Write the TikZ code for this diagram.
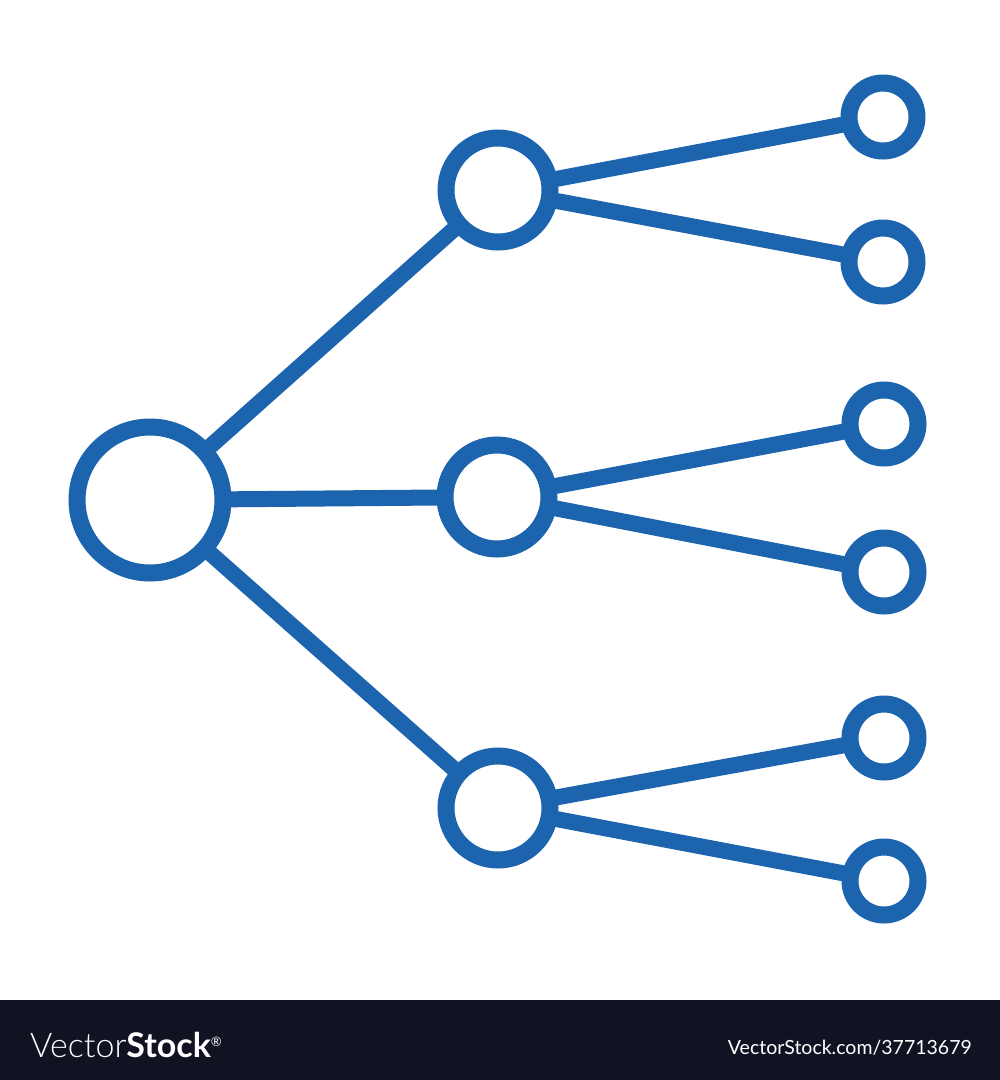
\documentclass[tikz,border=0pt]{standalone}
\usepackage{fontspec}
\newfontfamily\lato{Lato}
\newfontfamily\latolight{Lato Light}
\definecolor{iconblue}{HTML}{1C64AE}
\definecolor{barnavy}{HTML}{121322}
\begin{document}
\begin{tikzpicture}[x=1pt,y=-1pt,
  stroke/.style={draw=iconblue,line width=17pt},
  rootnode/.style={stroke,circle,minimum size=146pt,inner sep=0pt},
  midnode/.style={stroke,circle,minimum size=104pt,inner sep=0pt},
  leafnode/.style={stroke,circle,minimum size=68pt,inner sep=0pt},
  link/.style={draw=iconblue,line width=16pt,line cap=round}]
\useasboundingbox (0,0) rectangle (1000,1080);
\fill[white] (0,0) rectangle (1000,1000);
\fill[barnavy] (0,1000) rectangle (1000,1080);
% nodes
\node[rootnode] (r) at (150,500) {};
\node[midnode] (m1) at (498,190) {};
\node[midnode] (m2) at (497,497) {};
\node[midnode] (m3) at (498,808) {};
\node[leafnode] (l1) at (883,117) {};
\node[leafnode] (l2) at (883,262) {};
\node[leafnode] (l3) at (884,424) {};
\node[leafnode] (l4) at (884,572) {};
\node[leafnode] (l5) at (884,738) {};
\node[leafnode] (l6) at (884,881) {};
% connectors
\draw[link] (r) -- (m1);
\draw[link] (r) -- (m2);
\draw[link] (r) -- (m3);
\draw[link] (m1) -- (l1);
\draw[link] (m1) -- (l2);
\draw[link] (m2) -- (l3);
\draw[link] (m2) -- (l4);
\draw[link] (m3) -- (l5);
\draw[link] (m3) -- (l6);
% footer
\node[anchor=base west,text=white,inner sep=0pt,font=\fontsize{34}{34}\selectfont] (brand) at (30,1057)
  {{\latolight Vector}{\lato\bfseries Stock}\raisebox{11pt}{\lato\fontsize{13}{13}\selectfont\textregistered}};
\node[anchor=base east,text=white,inner sep=0pt,font=\lato\fontsize{19.5}{19.5}\selectfont] (url) at (972,1054)
  {VectorStock.com/37713679};
\end{tikzpicture}
\end{document}
